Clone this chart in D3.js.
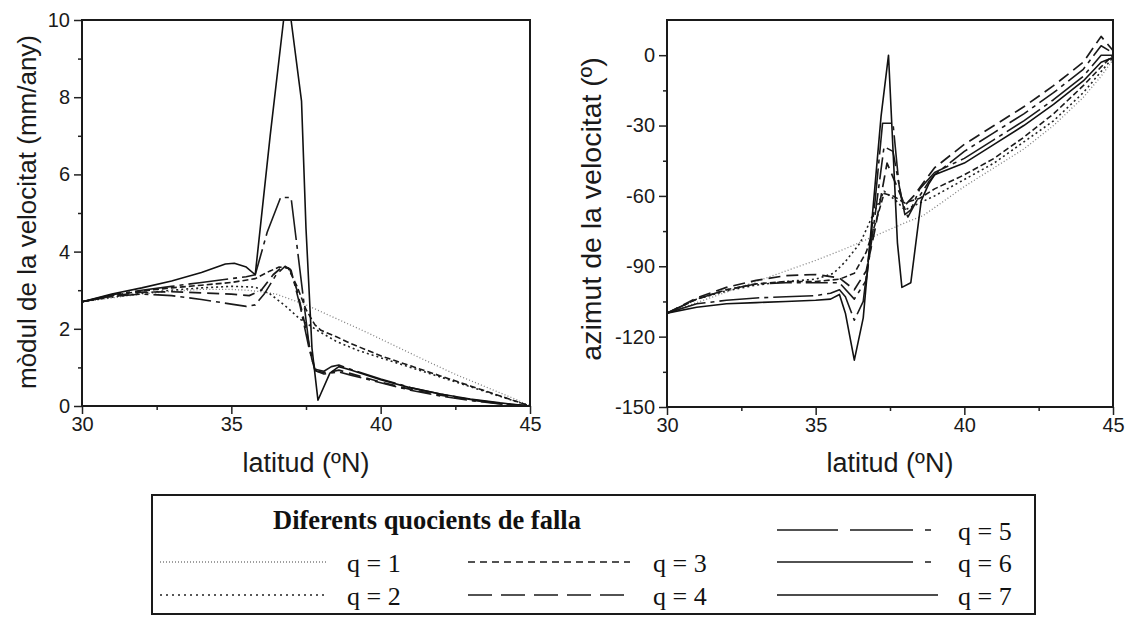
<!DOCTYPE html>
<html><head><meta charset="utf-8">
<script src="https://cdn.jsdelivr.net/npm/d3@7"></script>
<style>body{margin:0;background:#fff}svg{display:block}</style>
</head><body><svg id="c" width="1131" height="617"></svg>
<script>
// ---------- DATA ----------
const seriesNames = ["q = 1","q = 2","q = 3","q = 4","q = 5","q = 6","q = 7"];
const xTicks = [30,35,40,45];
const xMinorTicks = [32.5,37.5,42.5];
const modTicks = [0,2,4,6,8,10];
const modMinorTicks = [1,3,5,7,9];
const azTicks = [-150,-120,-90,-60,-30,0];
const azMinorTicks = [-135,-105,-75,-45,-15];

// mòdul de la velocitat (mm/any) vs latitud
const modQ1 = [[30,2.7],[31,2.8],[32,2.9],[33,2.97],[34,3.02],[35,3.02],[35.5,3.0],[36,2.96],[36.5,2.9],[37.5,2.62],[38.5,2.27],[39.5,1.92],[40.5,1.55],[41.5,1.18],[42.5,0.82],[43.5,0.5],[44.5,0.18],[45,0]];
const modQ2 = [[30,2.7],[31,2.82],[32,2.92],[33,3.0],[34,3.06],[35,3.1],[35.8,3.08],[36.3,2.9],[36.8,2.6],[37.3,2.25],[37.9,1.95],[38.5,1.68],[39.2,1.45],[40,1.25],[41,1.0],[42,0.75],[43,0.5],[44,0.25],[45,0]];
const modQ3 = [[30,2.7],[31,2.86],[32,2.98],[33,3.06],[34,3.13],[35,3.2],[35.8,3.3],[36.3,3.5],[36.6,3.6],[36.9,3.58],[37.2,3.1],[37.5,2.5],[37.8,2.1],[38.0,1.96],[38.5,1.8],[39,1.62],[40,1.3],[41,1.04],[42,0.78],[43,0.52],[44,0.26],[45,0]];
const modQ4 = [[30,2.7],[31,2.85],[32,2.95],[33,2.96],[34,2.93],[35,2.9],[35.6,2.86],[36.0,3.0],[36.4,3.4],[36.7,3.6],[36.95,3.56],[37.2,3.0],[37.5,2.0],[37.7,1.2],[37.85,0.9],[38.2,0.86],[38.6,0.93],[39,0.84],[40,0.62],[41,0.43],[42,0.28],[43,0.16],[44,0.06],[45,0]];
const modQ5 = [[30,2.7],[31,2.84],[32,2.9],[33,2.86],[34,2.76],[35,2.64],[35.5,2.58],[35.8,2.62],[36.1,2.9],[36.5,3.4],[36.8,3.62],[37.0,3.52],[37.3,2.6],[37.6,1.5],[37.8,0.92],[38.1,0.83],[38.6,0.88],[39,0.8],[40,0.6],[41,0.41],[42,0.26],[43,0.14],[44,0.05],[45,0]];
const modQ6 = [[30,2.7],[31,2.88],[32,3.0],[33,3.1],[34,3.2],[35,3.3],[35.5,3.35],[35.8,3.4],[36.2,4.5],[36.65,5.4],[37.0,5.4],[37.3,3.5],[37.6,1.6],[37.8,0.95],[38.1,0.9],[38.35,1.02],[38.6,1.06],[39,0.95],[40,0.7],[41,0.48],[42,0.31],[43,0.17],[44,0.07],[45,0]];
const modQ7 = [[30,2.7],[31,2.9],[32,3.06],[33,3.24],[34,3.46],[34.8,3.68],[35.1,3.7],[35.5,3.6],[35.8,3.4],[36.3,7.0],[36.75,10],[37.0,10],[37.35,7.9],[37.5,4.6],[37.7,1.5],[37.9,0.15],[38.3,0.85],[38.6,1.02],[39,0.93],[40,0.68],[41,0.47],[42,0.31],[43,0.18],[44,0.08],[45,0]];

// azimut de la velocitat (º) vs latitud
const azQ1 = [[30,-110],[31,-105.5],[32,-101],[33,-96.5],[34,-92],[35,-87.5],[36,-82.5],[37,-77],[38,-71.5],[38.6,-68.5],[39,-65],[40,-56],[41,-48],[42,-40],[43,-30],[44,-18],[44.6,-9],[45,-2]];
const azQ2 = [[30,-110],[31,-104],[32,-100.5],[33,-98],[34,-96.5],[35,-95.5],[35.6,-93],[36.0,-88],[36.5,-80],[37.0,-66],[37.3,-58],[37.7,-62],[38.0,-66],[38.5,-63],[39,-60],[40,-53],[41,-46],[42,-37],[43,-28],[44,-16],[44.6,-7],[45,-1]];
const azQ3 = [[30,-110],[31,-104],[32,-100],[33,-97.5],[34,-96.5],[35,-96.5],[35.8,-95.5],[36.3,-93],[36.7,-84],[37.0,-72],[37.3,-59],[37.6,-60],[38.0,-63],[38.5,-61],[39,-57],[40,-51],[41,-44],[42,-35],[43,-25],[44,-13],[44.6,-5],[45,0]];
const azQ4 = [[30,-110],[31,-103.5],[32,-99],[33,-96],[34,-94],[35,-93.5],[35.8,-95],[36.3,-100],[36.7,-92],[37.0,-74],[37.4,-46],[37.7,-55],[38.0,-64],[38.3,-60],[38.7,-53],[39,-48],[40,-38],[41,-30],[42,-22],[43,-13],[44,-3],[44.6,8],[45,2]];
const azQ5 = [[30,-110],[31,-104],[32,-100],[33,-97.5],[34,-97],[35,-97],[35.8,-97],[36.3,-104],[36.7,-96],[37.0,-68],[37.3,-39],[37.6,-41],[37.9,-62],[38.1,-69],[38.4,-62],[38.8,-54],[39,-51],[40,-41],[41,-33],[42,-25],[43,-16],[44,-6],[44.6,4],[45,1]];
const azQ6 = [[30,-110],[31,-106],[32,-104.5],[33,-103.5],[34,-103],[35,-102.5],[35.5,-101.5],[35.8,-100],[36.0,-103],[36.3,-113],[36.6,-105],[37.0,-62],[37.25,-29],[37.6,-29],[37.8,-55],[38.0,-68],[38.2,-66],[38.5,-57],[39,-50],[40,-44],[41,-36],[42,-28],[43,-19],[44,-9],[44.6,0],[45,0]];
const azQ7 = [[30,-110],[31,-107.5],[32,-106],[33,-105.5],[34,-105],[35,-104.5],[35.5,-104],[35.8,-102],[36.0,-110],[36.3,-130],[36.6,-112],[37.0,-55],[37.2,-26],[37.45,0],[37.6,-40],[37.75,-80],[37.9,-99],[38.2,-97],[38.55,-62],[38.8,-55],[39,-51],[40,-46],[41,-38],[42,-30],[43,-21],[44,-11],[44.6,-3],[45,-1]];

const modSeries = [modQ1,modQ2,modQ3,modQ4,modQ5,modQ6,modQ7];
const azSeries = [azQ1,azQ2,azQ3,azQ4,azQ5,azQ6,azQ7];

// ---------- STYLES ----------
const lineColor = ["#808080","#222","#1a1a1a","#1a1a1a","#1a1a1a","#1a1a1a","#111"];
const lineWidth = [1.3,1.6,1.6,1.7,1.6,1.6,1.6];
const chartDash = ["1,2.2","2,3","6,3","12,6","22,5,4,5","40,5,4,5",null];
const legendDash = ["1,2","2,4","7,5","24,9","61,12,63,12,6,40","136,12,6,40",null];
const sansFont = "'Liberation Sans', Arial, sans-serif";
const serifFont = "'Liberation Serif', 'Times New Roman', serif";

const svg = d3.select("#c");
const fmt = d => String(d);

function panel(opts){
  const {x0,x1,y0,y1,yDomain,yTicks,yMinor,series,yLabel,yLabelX,yLabelY,yLabelSize,id} = opts;
  const x = d3.scaleLinear().domain([30,45]).range([x0,x1]);
  const y = d3.scaleLinear().domain(yDomain).range([y1,y0]);
  const g = svg.append("g");
  g.append("clipPath").attr("id",id).append("rect")
    .attr("x",x0).attr("y",y0-1).attr("width",x1-x0).attr("height",y1-y0+2);

  const ax = g.append("g").attr("transform",`translate(0,${y1})`)
    .call(d3.axisBottom(x).tickValues(xTicks).tickSize(8).tickPadding(3).tickFormat(fmt));
  const axm = g.append("g").attr("transform",`translate(0,${y1})`)
    .call(d3.axisBottom(x).tickValues(xMinorTicks).tickSize(4).tickFormat(""));
  const ay = g.append("g").attr("transform",`translate(${x0},0)`)
    .call(d3.axisLeft(y).tickValues(yTicks).tickSize(8).tickPadding(4).tickFormat(fmt));
  const aym = g.append("g").attr("transform",`translate(${x0},0)`)
    .call(d3.axisLeft(y).tickValues(yMinor).tickSize(4).tickFormat(""));
  [ax,axm,ay,aym].forEach(a=>{
    a.select(".domain").remove();
    a.selectAll("line").attr("stroke","#222").attr("stroke-width",1.5);
    a.selectAll("text").attr("font-family",sansFont).attr("font-size",20).attr("fill","#1a1a1a");
  });

  const line = d3.line().x(d=>x(d[0])).y(d=>y(d[1]));
  const lg = g.append("g").attr("clip-path",`url(#${id})`);
  series.forEach((s,i)=>{
    lg.append("path").attr("d",line(s)).attr("fill","none")
      .attr("stroke",lineColor[i]).attr("stroke-width",lineWidth[i])
      .attr("stroke-linejoin","round")
      .attr("stroke-dasharray",chartDash[i]);
  });

  g.append("rect").attr("x",x0).attr("y",y0).attr("width",x1-x0).attr("height",y1-y0)
    .attr("fill","none").attr("stroke","#1a1a1a").attr("stroke-width",2);

  g.append("text").attr("x",(x0+x1)/2).attr("y",472).attr("text-anchor","middle")
    .attr("font-family",sansFont).attr("font-size",27).attr("fill","#1a1a1a").text("latitud (ºN)");
  g.append("text").attr("transform",`translate(${yLabelX},${yLabelY}) rotate(-90)`)
    .attr("text-anchor","middle").attr("font-family",sansFont).attr("font-size",yLabelSize).attr("fill","#1a1a1a").text(yLabel);
}

panel({x0:82,x1:530,y0:20,y1:406,yDomain:[0,10],yTicks:modTicks,yMinor:modMinorTicks,
  series:modSeries,yLabel:"mòdul de la velocitat (mm/any)",yLabelX:36,yLabelY:212,yLabelSize:26,id:"clipL"});
panel({x0:667,x1:1113,y0:20,y1:407,yDomain:[-150,15],yTicks:azTicks,yMinor:azMinorTicks,
  series:azSeries,yLabel:"azimut de la velocitat (º)",yLabelX:601,yLabelY:209,yLabelSize:28.5,id:"clipR"});

// ---------- LEGEND ----------
const lgd = svg.append("g");
lgd.append("rect").attr("x",152).attr("y",495).attr("width",883).attr("height",119)
  .attr("fill","none").attr("stroke","#1a1a1a").attr("stroke-width",2);
lgd.append("text").attr("x",273).attr("y",529).attr("font-family",serifFont)
  .attr("font-weight","bold").attr("font-size",26.5).attr("fill","#111").text("Diferents quocients de falla");
const legendPos = [
  {lx0:160,lx1:327,ly:562,tx:347,ty:572},
  {lx0:160,lx1:327,ly:595,tx:347,ty:605},
  {lx0:468,lx1:630,ly:562,tx:653,ty:572},
  {lx0:468,lx1:630,ly:595,tx:653,ty:605},
  {lx0:777,lx1:938,ly:530,tx:958,ty:540},
  {lx0:777,lx1:938,ly:562,tx:958,ty:572},
  {lx0:777,lx1:938,ly:595,tx:958,ty:605}
];
seriesNames.forEach((n,i)=>{
  const p = legendPos[i];
  lgd.append("line").attr("x1",p.lx0).attr("x2",p.lx1).attr("y1",p.ly).attr("y2",p.ly)
    .attr("stroke",lineColor[i]).attr("stroke-width",lineWidth[i]).attr("stroke-dasharray",legendDash[i]);
  lgd.append("text").attr("x",p.tx).attr("y",p.ty).attr("font-family",serifFont)
    .attr("font-size",26).attr("fill","#111").text(n);
});
</script></body></html>
